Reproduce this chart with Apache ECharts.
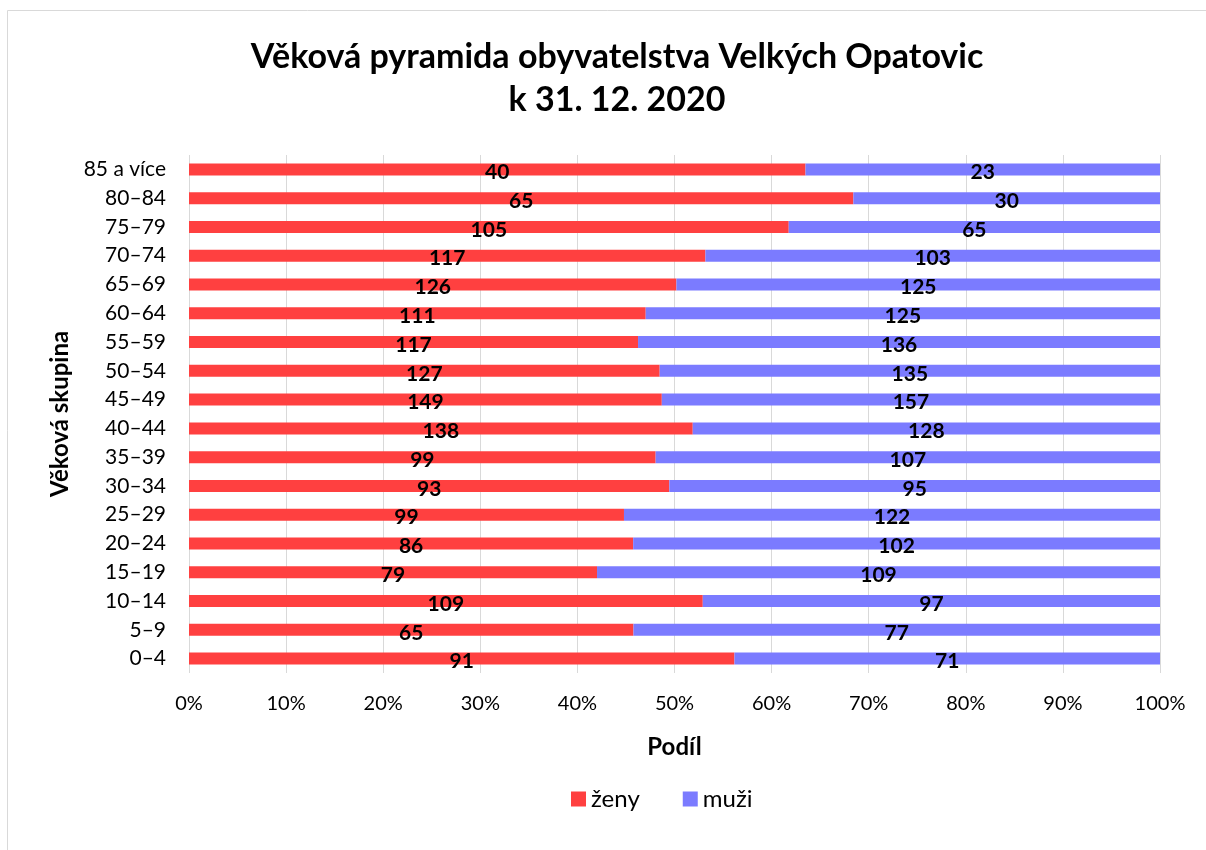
<!DOCTYPE html>
<html>
<head>
<meta charset="utf-8">
<script src="https://cdn.jsdelivr.net/npm/echarts@6/dist/echarts.min.js"></script>
<style>
  html, body { margin: 0; padding: 0; background: #fff; }
  #chart { width: 1206px; height: 850px; }
</style>
</head>
<body>
<div id="chart"></div>
<script>
// věkové skupiny (zdola nahoru)
const ageGroups = ['0–4', '5–9', '10–14', '15–19', '20–24', '25–29', '30–34', '35–39', '40–44',
    '45–49', '50–54', '55–59', '60–64', '65–69', '70–74', '75–79', '80–84', '85 a více'];
const zeny = [91, 65, 109, 79, 86, 99, 93, 99, 138, 149, 127, 117, 111, 126, 117, 105, 65, 40];
const muzi = [71, 77, 97, 109, 102, 122, 95, 107, 128, 157, 135, 136, 125, 125, 103, 65, 30, 23];
const xTicks = [0, 10, 20, 30, 40, 50, 60, 70, 80, 90, 100];

const FONT = 'Lato';

// podíl v procentech (100% skládaný pruh)
const zenyPct = zeny.map((v, i) => v / (v + muzi[i]) * 100);
const muziPct = muzi.map((v, i) => v / (zeny[i] + v) * 100);

const chart = echarts.init(document.getElementById('chart'));

const labelStyle = (raw) => ({
    show: true,
    position: 'inside',
    offset: [0, 3],
    color: '#000',
    fontFamily: FONT,
    fontWeight: 'bold',
    fontSize: 21,
    formatter: p => raw[p.dataIndex]
});

chart.setOption({
    animation: false,
    textStyle: { fontFamily: FONT },
    graphic: [{
        type: 'rect',
        shape: { x: 7.5, y: 10.5, width: 1400, height: 1000 },
        style: { fill: 'none', stroke: '#d9d9d9', lineWidth: 1 },
        silent: true
    }],
    title: {
        text: 'Věková pyramida obyvatelstva Velkých Opatovic\nk 31. 12. 2020',
        left: 612,
        textAlign: 'center',
        top: 31,
        textStyle: { fontFamily: FONT, fontWeight: 'bold', fontSize: 34, lineHeight: 43, color: '#000' }
    },
    legend: {
        bottom: 34,
        left: 566,
        itemWidth: 15,
        itemHeight: 15,
        itemGap: 43,
        icon: 'rect',
        textStyle: { fontFamily: FONT, fontSize: 24, color: '#000' },
        data: ['ženy', 'muži']
    },
    grid: { left: 189, right: 46, top: 155, bottom: 177 },
    xAxis: {
        type: 'value',
        min: 0,
        max: 100,
        interval: 10,
        name: 'Podíl',
        nameLocation: 'middle',
        nameGap: 62,
        nameTextStyle: { fontFamily: FONT, fontWeight: 'bold', fontSize: 24, color: '#000' },
        axisLine: { show: false },
        axisTick: { show: false },
        axisLabel: { fontFamily: FONT, fontSize: 20, color: '#000', margin: 21,
            formatter: v => xTicks.includes(v) ? v + '%' : '' },
        splitLine: { show: true, lineStyle: { color: '#d9d9d9', width: 1 } }
    },
    yAxis: {
        type: 'category',
        data: ageGroups,
        name: 'Věková skupina',
        nameLocation: 'middle',
        nameGap: 106,
        nameTextStyle: { fontFamily: FONT, fontWeight: 'bold', fontSize: 24, color: '#000' },
        axisLine: { show: false },
        axisTick: { show: false },
        axisLabel: { fontFamily: FONT, fontSize: 21, color: '#000', margin: 23 },
        splitLine: { show: false }
    },
    series: [{
        name: 'ženy',
        type: 'bar',
        stack: 'celkem',
        barWidth: 12,
        itemStyle: { color: '#ff4040' },
        label: labelStyle(zeny),
        data: zenyPct
    }, {
        name: 'muži',
        type: 'bar',
        stack: 'celkem',
        barWidth: 12,
        itemStyle: { color: '#7b7bff' },
        label: labelStyle(muzi),
        data: muziPct
    }]
});
</script>
</body>
</html>
